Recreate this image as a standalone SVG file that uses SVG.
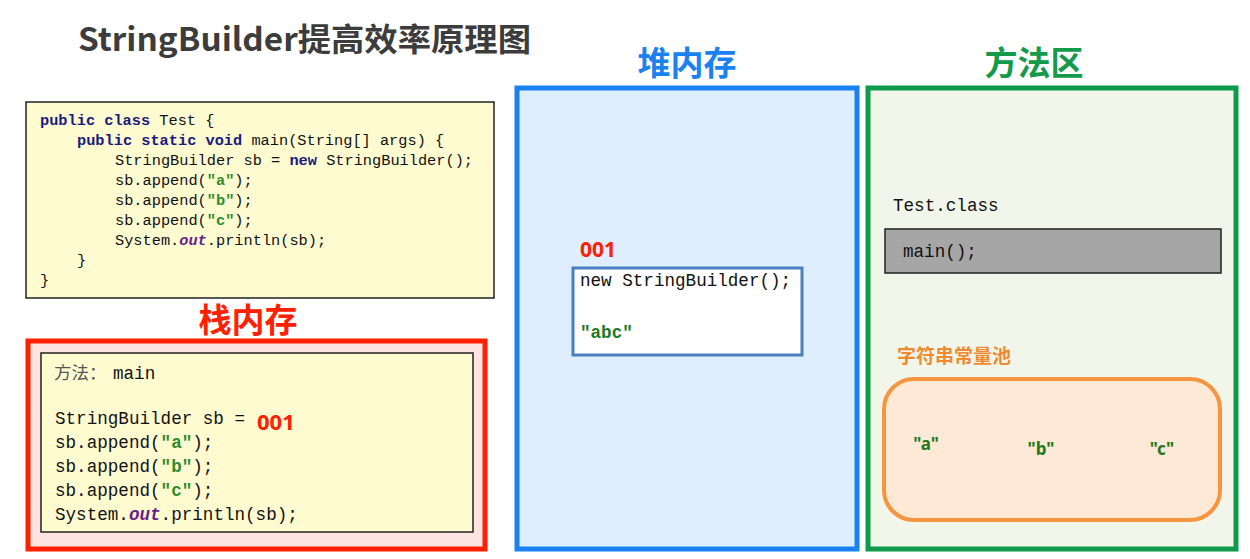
<svg xmlns="http://www.w3.org/2000/svg" width="1250" height="559" viewBox="0 0 1250 559">
<style>
.mono{font-family:"Liberation Mono","DejaVu Sans Mono",monospace;fill:#111}
.code{font-size:15.3px}
.big{font-size:17.6px}
.kw{font-weight:bold;fill:#1a1a80}
.str{font-weight:bold;fill:#2e8b2e}
.out{font-weight:bold;font-style:italic;fill:#6a1e8c}
.head{font-family:"Noto Sans CJK SC","Noto Sans",sans-serif;font-weight:bold}
.addr{font-family:"Noto Sans","Noto Sans CJK SC",sans-serif;font-weight:bold;fill:#ff2000}
.lit{font-family:"Noto Sans","Noto Sans CJK SC",sans-serif;font-weight:bold;fill:#1f7a1f;font-size:17px}
</style>
<rect width="1250" height="559" fill="#ffffff"/>
<g id="title">
<text x="78" y="51" class="head" font-size="32" fill="#3c3c3c" textLength="453" lengthAdjust="spacingAndGlyphs">StringBuilder提高效率原理图</text>
</g>
<g id="code">
<rect x="26" y="102" width="468" height="196" fill="#fefbd0" stroke="#222" stroke-width="1.5"/>
<text class="mono code" x="40" y="125"><tspan class="kw">public class</tspan> Test {</text>
<text class="mono code" x="77" y="145"><tspan class="kw">public static void</tspan> main(String[] args) {</text>
<text class="mono code" x="115" y="165">StringBuilder sb = <tspan class="kw">new</tspan> StringBuilder();</text>
<text class="mono code" x="115" y="185">sb.append(<tspan class="str">"a"</tspan>);</text>
<text class="mono code" x="115" y="205">sb.append(<tspan class="str">"b"</tspan>);</text>
<text class="mono code" x="115" y="225">sb.append(<tspan class="str">"c"</tspan>);</text>
<text class="mono code" x="115" y="245">System.<tspan class="out">out</tspan>.println(sb);</text>
<text class="mono code" x="77" y="265">}</text>
<text class="mono code" x="40" y="285">}</text>
</g>
<g id="stack">
<text x="248" y="332" class="head" font-size="33" fill="#ff2000" text-anchor="middle">栈内存</text>
<rect x="28" y="341" width="457" height="208" fill="#fde4e0" stroke="#ff2000" stroke-width="5"/>
<rect x="41" y="353" width="432" height="179" fill="#fefbd0" stroke="#222" stroke-width="1.5"/>
<text x="54" y="379" font-family="Noto Sans CJK SC,sans-serif" font-size="17.5" fill="#555">方法：</text>
<text class="mono big" x="113" y="379">main</text>
<text class="mono big" x="55" y="424">StringBuilder sb =</text>
<text class="addr" x="257" y="430" font-size="22">001</text>
<text class="mono big" x="55" y="448">sb.append(<tspan class="str">"a"</tspan>);</text>
<text class="mono big" x="55" y="472">sb.append(<tspan class="str">"b"</tspan>);</text>
<text class="mono big" x="55" y="496">sb.append(<tspan class="str">"c"</tspan>);</text>
<text class="mono big" x="55" y="520">System.<tspan class="out">out</tspan>.println(sb);</text>
</g>
<g id="heap">
<text x="687" y="75" class="head" font-size="33" fill="#1a82f0" text-anchor="middle">堆内存</text>
<rect x="517" y="88" width="340" height="461" fill="#deeefc" stroke="#1a82f0" stroke-width="5"/>
<text class="addr" x="580" y="257" font-size="21">001</text>
<g id="sb-object">
<rect x="573" y="268" width="229" height="87" fill="#ffffff" stroke="#4a7fc0" stroke-width="3"/>
<text class="mono big" x="580" y="286">new StringBuilder();</text>
<text class="mono big" x="580" y="338"><tspan class="str" style="fill:#1f7a1f">"abc"</tspan></text>
</g>
</g>
<g id="method-area">
<text x="1034" y="75" class="head" font-size="33" fill="#139a4a" text-anchor="middle">方法区</text>
<rect x="868" y="88" width="368" height="461" fill="#f2f6ea" stroke="#0d9a4a" stroke-width="5"/>
<text class="mono big" x="893" y="211">Test.class</text>
<g id="main-method">
<rect x="885" y="229" width="336" height="44" fill="#a6a6a6" stroke="#222" stroke-width="1.5"/>
<text class="mono big" x="903" y="257">main();</text>
</g>
<g id="string-pool">
<text x="897" y="363" class="head" font-size="19" fill="#f08a30">字符串常量池</text>
<rect x="884" y="379" width="336" height="141" rx="30" ry="30" fill="#fde9d6" stroke="#f5953f" stroke-width="4"/>
<text class="lit" x="926" y="450" text-anchor="middle">"a"</text>
<text class="lit" x="1041" y="455" text-anchor="middle">"b"</text>
<text class="lit" x="1162" y="455" text-anchor="middle">"c"</text>
</g>
</g>
<g id="connectors"/>
</svg>
